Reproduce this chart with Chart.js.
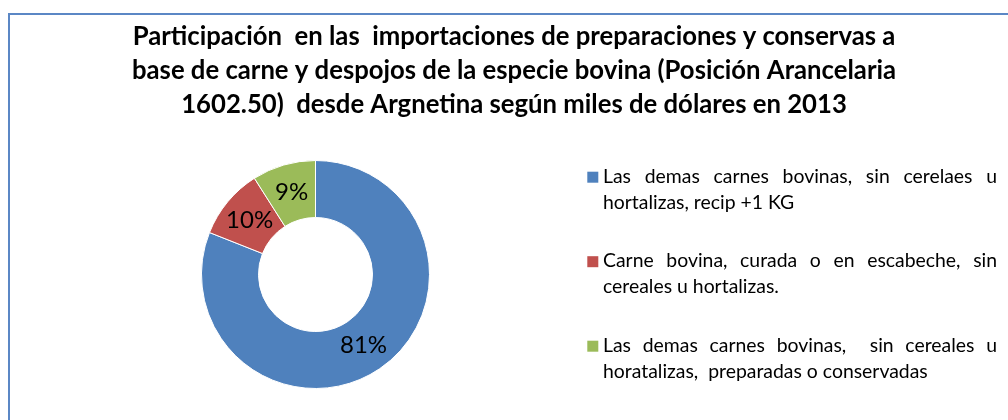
<!DOCTYPE html>
<html><head><meta charset="utf-8">
<script src="https://cdn.jsdelivr.net/npm/chart.js@4.4.1/dist/chart.umd.min.js"></script>
<style>
html,body{margin:0;padding:0;background:#fff;overflow:hidden;width:1008px;height:420px;}
#frame{position:absolute;left:8px;top:13px;width:1100px;height:500px;border:2px solid #5B87C5;box-sizing:border-box;}
#wrap{position:absolute;left:0;top:0;width:1008px;height:420px;}
</style></head><body>
<div id="frame"></div>
<div id="wrap"><canvas id="c" width="1008" height="420"></canvas></div>
<script>
// ---- data ----
const titleLines = [
  'Participación  en las  importaciones de preparaciones y conservas a',
  'base de carne y despojos de la especie bovina (Posición Arancelaria',
  '1602.50)  desde Argnetina según miles de dólares en 2013'
];
const categories = [
  ['Las demas carnes bovinas, sin cerelaes u', 'hortalizas, recip +1 KG'],
  ['Carne bovina, curada o en escabeche, sin', 'cereales u hortalizas.'],
  ['Las demas carnes bovinas,  sin cereales u', 'horatalizas,  preparadas o conservadas']
];
const shares = [81, 10, 9];
const colors = ['#4F81BD', '#C0504D', '#9BBB59'];

// ---- legend (justified, drawn in its own layout box) ----
const LEG = { boxWidth: 397, markerDx: -23.7, textDx: -8, textW: 394, firstBase: 182.7, lineH: 25.8, itemGap: 84.5, font: '19.4px Lato' };

function drawJustified(ctx, line, x, y, w, justify) {
  if (!justify) { ctx.fillText(line, x, y); return; }
  const words = line.split(' ');
  const natural = ctx.measureText(line).width;
  const gaps = words.length - 1;
  const extra = gaps > 0 ? (w - natural) / gaps : 0;
  const sp = ctx.measureText(' ').width;
  let cx = x;
  words.forEach((wd) => {
    if (wd) ctx.fillText(wd, cx, y);
    cx += ctx.measureText(wd).width + sp + extra;
  });
}

const justifiedLegend = {
  id: 'justifiedLegend',
  beforeInit(chart) {
    const box = {
      position: 'right', weight: 0, fullSize: false, options: {},
      left: 0, top: 0, right: 0, bottom: 0, width: 0, height: 0,
      isHorizontal() { return false; },
      update(maxWidth, maxHeight) { this.width = LEG.boxWidth; this.height = maxHeight; },
      draw() {
        const ctx = chart.ctx;
        const labels = chart.data.labels;
        const bg = chart.data.datasets[0].backgroundColor;
        ctx.save();
        ctx.font = LEG.font;
        ctx.textBaseline = 'alphabetic';
        ctx.textAlign = 'left';
        labels.forEach((lines, i) => {
          const base = LEG.firstBase + i * LEG.itemGap;
          ctx.fillStyle = bg[i];
          ctx.fillRect(this.left + LEG.markerDx, base - 11, 11, 11);
          ctx.fillStyle = '#000';
          lines.forEach((ln, j) => {
            drawJustified(ctx, ln, this.left + LEG.textDx, base + j * LEG.lineH, LEG.textW, j < lines.length - 1);
          });
        });
        ctx.restore();
      }
    };
    Chart.layouts.addBox(chart, box);
  }
};

const pctLabels = {
  id: 'pctLabels',
  afterDatasetsDraw(chart) {
    const ctx = chart.ctx;
    const meta = chart.getDatasetMeta(0);
    const vals = chart.data.datasets[0].data;
    const total = vals.reduce((a, b) => a + b, 0);
    ctx.save();
    ctx.font = '24px Lato';
    ctx.fillStyle = '#000';
    ctx.textAlign = 'center';
    ctx.textBaseline = 'middle';
    meta.data.forEach((arc, i) => {
      const p = arc.tooltipPosition();
      ctx.fillText(Math.round(vals[i] / total * 100) + '%', p.x, p.y);
    });
    ctx.restore();
  }
};

new Chart(document.getElementById('c'), {
  type: 'doughnut',
  data: {
    labels: categories,
    datasets: [{
      data: shares,
      backgroundColor: colors,
      borderColor: '#ffffff',
      borderWidth: 1,
      hoverOffset: 0
    }]
  },
  options: {
    responsive: false,
    animation: false,
    cutout: '50%',
    layout: { padding: { left: 20, right: 0, top: 0, bottom: 31 } },
    plugins: {
      legend: { display: false },
      tooltip: { enabled: false },
      title: {
        display: true,
        text: titleLines,
        color: '#000',
        font: { family: 'Lato', weight: 'bold', size: 25.7, lineHeight: 1.323 },
        padding: { top: 20, bottom: 38 }
      }
    }
  },
  plugins: [justifiedLegend, pctLabels]
});
</script>
</body></html>
